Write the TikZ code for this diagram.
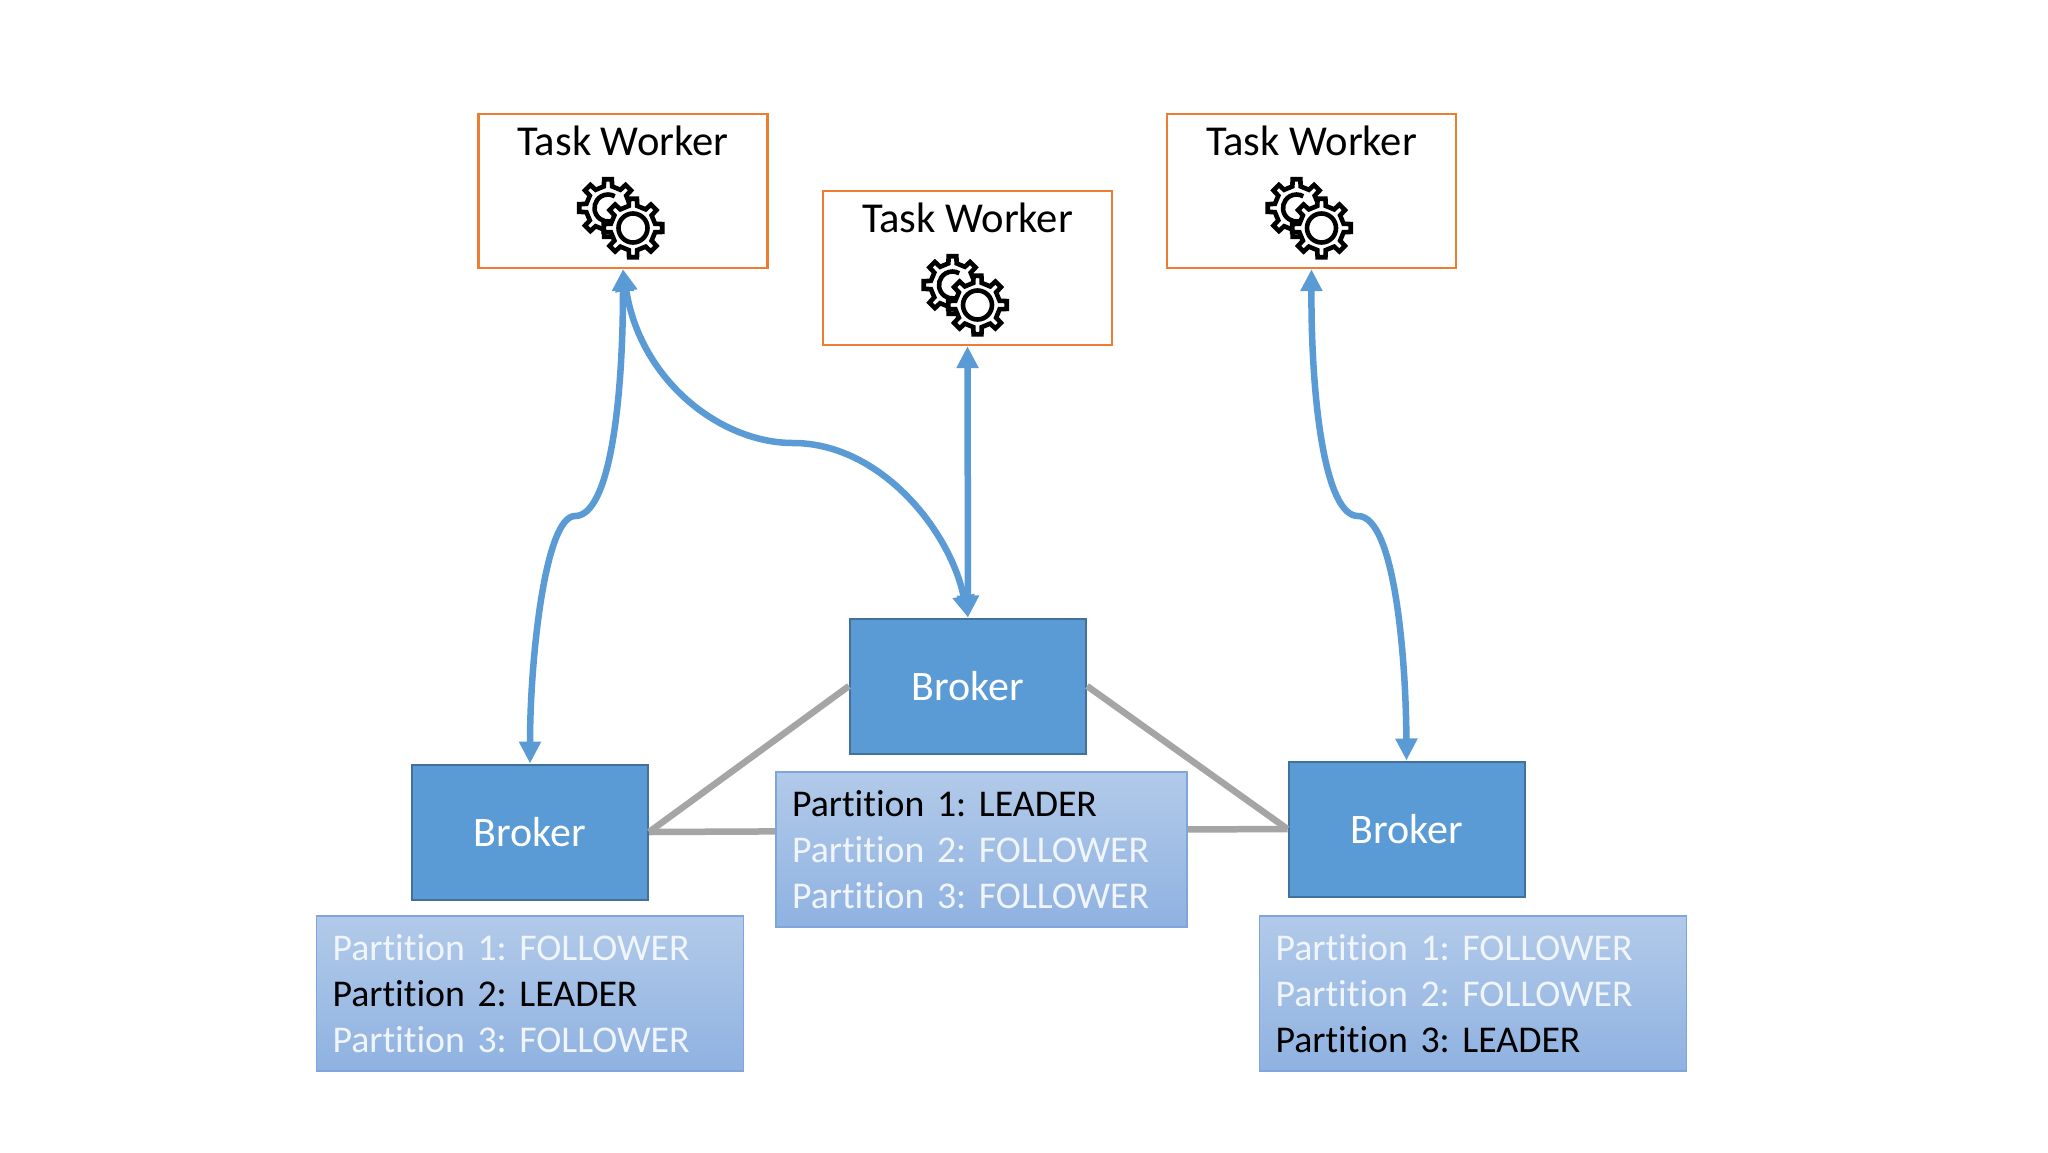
\documentclass[tikz,border=0pt]{standalone}
\usepackage{fontspec}
\setmainfont[Ligatures=NoCommon]{Carlito}
\newfontfamily\partfont[Ligatures=NoCommon,WordSpace=0.6]{Carlito}
\usetikzlibrary{arrows.meta}
\definecolor{brokerfill}{HTML}{5B9BD5}
\definecolor{brokerline}{HTML}{41719C}
\definecolor{orangeline}{HTML}{ED7D31}
\definecolor{linkblue}{HTML}{5B9BD5}
\definecolor{linkgray}{HTML}{A5A5A5}
\definecolor{parttop}{HTML}{B2CAE9}
\definecolor{partbot}{HTML}{8FB2E1}
\definecolor{partline}{HTML}{7FA6DC}
\definecolor{paletext}{HTML}{F0F5FC}
\newcommand{\cogpath}[4]{% R, r, n, line options
  \pgfmathsetmacro{\cogst}{360/#3}
  \draw[#4] ({-0.24*\cogst}:#2)
    \foreach \i in {1,...,#3}{
      -- ({(\i-1)*\cogst-0.17*\cogst}:#1) -- ({(\i-1)*\cogst+0.17*\cogst}:#1)
      -- ({(\i-1)*\cogst+0.24*\cogst}:#2) -- ({(\i-1)*\cogst+0.76*\cogst}:#2)
    } -- cycle;
}
\tikzset{
  worker/.style={draw=orangeline,line width=2.4pt,fill=white,minimum width=289pt,minimum height=154pt,inner sep=0pt},
  worklabel/.style={font=\fontsize{42.6}{46}\selectfont,text=black,inner sep=0pt,anchor=center},
  broker/.style={draw=brokerline,line width=2pt,fill=brokerfill,minimum width=236pt,minimum height=135pt,inner sep=0pt,text=white,font=\fontsize{42}{46}\selectfont},
  part/.style={draw=partline,line width=1.5pt,top color=parttop,bottom color=partbot,minimum height=155pt,inner sep=0pt,align=left,font=\partfont\frenchspacing\fontsize{37.8}{46}\selectfont,text=paletext},
  link/.style={draw=linkblue,line width=6.5pt,{Triangle[width=21pt,length=22pt]}-{Triangle[width=21pt,length=22pt]}},
  peer/.style={draw=linkgray,line width=6.5pt},
  gears/.pic={
    \begin{scope}[shift={(-15,17)},line width=4.6pt,line join=miter]
      \cogpath{29}{22}{8}{draw=black,fill=white}
      \draw (60:13.5) arc (60:300:13.5);
    \end{scope}
    \begin{scope}[shift={(10,37)},line width=4.6pt]
      \cogpath{29.5}{22.5}{8}{draw=black,fill=white}
      \draw (0,0) circle (14.5);
    \end{scope}
  }
}
\begin{document}
\begin{tikzpicture}[x=1pt,y=-1pt]
\useasboundingbox[fill=white] (0,0) rectangle (2048,1152);
% task workers
\node[worker] (t1) at (623,191) {};
\node[worker] (t2) at (967.5,268) {};
\node[worker] (t3) at (1311.5,191) {};
\node[worklabel] (t1l) at (623,141) {Task Worker};
\node[worklabel] (t2l) at (967.5,218) {Task Worker};
\node[worklabel] (t3l) at (1311.5,141) {Task Worker};
\pic at (t1.center) {gears};
\pic at (t2.center) {gears};
\pic at (t3.center) {gears};
% brokers
\node[broker] (b1) at (530,832) {Broker};
\node[broker] (b2) at (968,686) {Broker};
\node[broker] (b3) at (1406.5,829) {Broker};
% peer links
\draw[peer] (b2.west) -- (b1.east);
\draw[peer] (b2.east) -- (b3.west);
\draw[peer] (b1.east) -- (b3.west);
% partition boxes
\node[part,minimum width=427pt,text width=395pt] (p1) at (530,993.5) {Partition 1: FOLLOWER\\\textcolor{black}{Partition 2: LEADER}\\Partition 3: FOLLOWER};
\node[part,minimum width=411pt,text width=379pt] (p2) at (981.5,849.5) {\textcolor{black}{Partition 1: LEADER}\\Partition 2: FOLLOWER\\Partition 3: FOLLOWER};
\node[part,minimum width=427pt,text width=395pt] (p3) at (1473,993.5) {Partition 1: FOLLOWER\\Partition 2: FOLLOWER\\\textcolor{black}{Partition 3: LEADER}};
% task links
\draw[link] (t1.south) .. controls (623,400) and (610,516) .. (575,516) .. controls (545,516) and (530,660) .. (b1.north);
\draw[link] (t1.south) .. controls (640,380) and (720,443) .. (793,443) .. controls (880,443) and (950,530) .. (b2.north);
\draw[link] (t2.south) -- (b2.north);
\draw[link] (t3.south) .. controls (1311,400) and (1325,516) .. (1358,516) .. controls (1395,516) and (1406,660) .. (b3.north);
\end{tikzpicture}
\end{document}
